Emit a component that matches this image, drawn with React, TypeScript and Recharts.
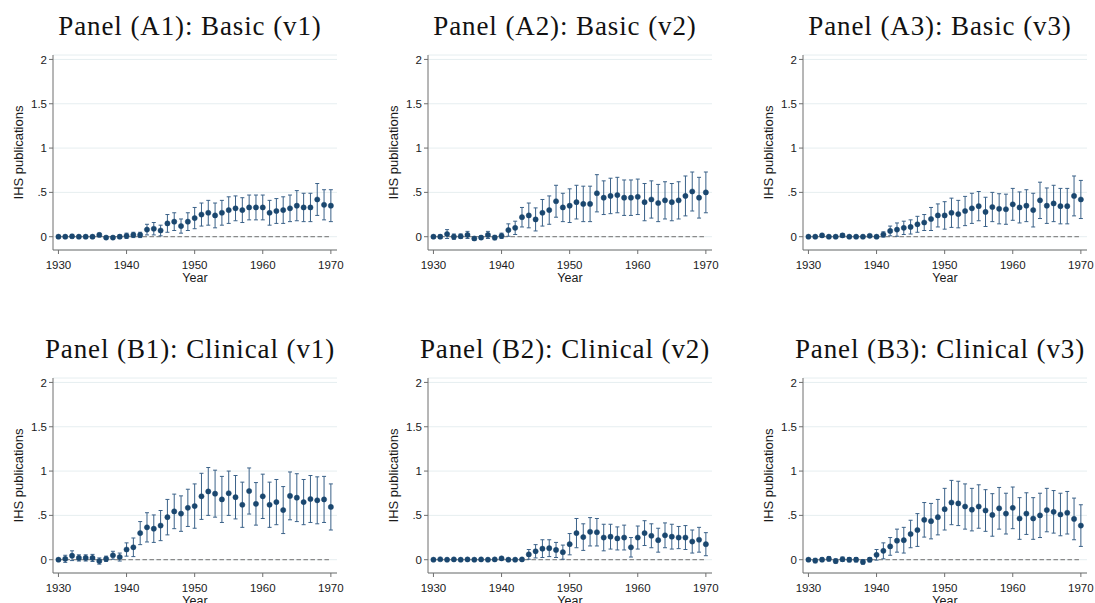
import React from 'react';
import { ComposedChart, Line, ErrorBar, XAxis, YAxis, CartesianGrid, ReferenceLine } from 'recharts';

const years = [
  1930, 1931, 1932, 1933, 1934, 1935, 1936, 1937, 1938, 1939,
  1940, 1941, 1942, 1943, 1944, 1945, 1946, 1947, 1948, 1949,
  1950, 1951, 1952, 1953, 1954, 1955, 1956, 1957, 1958, 1959,
  1960, 1961, 1962, 1963, 1964, 1965, 1966, 1967, 1968, 1969,
  1970,
];

const basicV1 = [
  0, 0, 0.005, 0, 0, 0, 0.02, -0.01, -0.01, 0,
  0.01, 0.02, 0.02, 0.08, 0.09, 0.07, 0.15, 0.17, 0.12, 0.17,
  0.21, 0.25, 0.27, 0.24, 0.27, 0.30, 0.32, 0.30, 0.33, 0.33,
  0.33, 0.27, 0.29, 0.30, 0.32, 0.35, 0.33, 0.33, 0.42, 0.36,
  0.35,
];
const basicV1Err = [
  0.015, 0.015, 0.02, 0.015, 0.015, 0.015, 0.02, 0.015, 0.015, 0.02,
  0.03, 0.03, 0.03, 0.06, 0.07, 0.06, 0.10, 0.10, 0.08, 0.10,
  0.12, 0.13, 0.14, 0.14, 0.14, 0.15, 0.14, 0.14, 0.14, 0.14,
  0.14, 0.14, 0.14, 0.15, 0.15, 0.17, 0.16, 0.16, 0.18, 0.17,
  0.18,
];

const basicV2 = [
  0, 0, 0.03, 0, 0.005, 0.02, -0.02, -0.01, 0.02, -0.01,
  0.01, 0.075, 0.10, 0.22, 0.24, 0.195, 0.27, 0.30, 0.40, 0.33,
  0.35, 0.39, 0.37, 0.37, 0.49, 0.44, 0.46, 0.47, 0.44, 0.44,
  0.45, 0.39, 0.42, 0.38, 0.41, 0.39, 0.41, 0.46, 0.51, 0.44,
  0.50,
];
const basicV2Err = [
  0.015, 0.02, 0.05, 0.03, 0.025, 0.04, 0.02, 0.02, 0.04, 0.025,
  0.03, 0.07, 0.075, 0.11, 0.14, 0.13, 0.15, 0.16, 0.18, 0.16,
  0.19, 0.19, 0.20, 0.20, 0.21, 0.19, 0.20, 0.20, 0.20, 0.20,
  0.20, 0.21, 0.21, 0.21, 0.21, 0.21, 0.21, 0.225, 0.22, 0.23,
  0.23,
];

const basicV3 = [
  0, 0, 0.015, 0, 0, 0.015, 0, 0, 0, 0.01,
  0, 0.025, 0.065, 0.08, 0.10, 0.11, 0.14, 0.16, 0.20, 0.24,
  0.24, 0.27, 0.255, 0.29, 0.32, 0.345, 0.28, 0.335, 0.315, 0.31,
  0.365, 0.33, 0.35, 0.30, 0.41, 0.35, 0.375, 0.345, 0.345, 0.46,
  0.42,
];
const basicV3Err = [
  0.01, 0.01, 0.015, 0.01, 0.01, 0.02, 0.01, 0.01, 0.01, 0.015,
  0.01, 0.03, 0.055, 0.075, 0.075, 0.08, 0.09, 0.09, 0.13, 0.13,
  0.155, 0.165, 0.155, 0.165, 0.17, 0.165, 0.165, 0.165, 0.17, 0.17,
  0.18, 0.175, 0.18, 0.19, 0.205, 0.20, 0.205, 0.20, 0.20, 0.225,
  0.215,
];

const clinicalV1 = [
  0, 0.01, 0.045, 0.02, 0.02, 0.02, -0.015, 0.01, 0.05, 0.03,
  0.115, 0.14, 0.30, 0.365, 0.35, 0.385, 0.48, 0.545, 0.52, 0.585,
  0.605, 0.715, 0.77, 0.745, 0.68, 0.75, 0.705, 0.62, 0.775, 0.63,
  0.715, 0.62, 0.65, 0.56, 0.72, 0.70, 0.65, 0.685, 0.67, 0.68,
  0.595,
];
const clinicalV1Err = [
  0.01, 0.04, 0.055, 0.035, 0.035, 0.04, 0.035, 0.03, 0.045, 0.045,
  0.075, 0.105, 0.13, 0.165, 0.155, 0.17, 0.20, 0.195, 0.20, 0.21,
  0.25, 0.26, 0.27, 0.265, 0.26, 0.25, 0.245, 0.255, 0.26, 0.24,
  0.25, 0.255, 0.255, 0.265, 0.27, 0.27, 0.255, 0.265, 0.265, 0.26,
  0.26,
];

const clinicalV2 = [
  0, 0.005, 0, 0.003, 0, 0.003, 0, 0.003, 0, 0.003,
  0.015, 0, 0, 0.003, 0.06, 0.095, 0.125, 0.13, 0.11, 0.085,
  0.175, 0.30, 0.255, 0.315, 0.31, 0.25, 0.26, 0.24, 0.25, 0.14,
  0.25, 0.30, 0.27, 0.22, 0.275, 0.26, 0.25, 0.25, 0.205, 0.225,
  0.175,
];
const clinicalV2Err = [
  0.008, 0.008, 0.008, 0.008, 0.008, 0.008, 0.008, 0.008, 0.008, 0.008,
  0.01, 0.008, 0.008, 0.01, 0.055, 0.075, 0.10, 0.095, 0.085, 0.08,
  0.12, 0.165, 0.15, 0.16, 0.155, 0.15, 0.14, 0.13, 0.14, 0.11,
  0.13, 0.14, 0.135, 0.135, 0.14, 0.14, 0.125, 0.135, 0.13, 0.14,
  0.13,
];

const clinicalV3 = [
  0, -0.01, 0, 0.01, -0.015, 0.005, 0, 0, -0.025, 0,
  0.055, 0.10, 0.15, 0.215, 0.22, 0.29, 0.335, 0.45, 0.435, 0.48,
  0.57, 0.645, 0.635, 0.60, 0.565, 0.60, 0.555, 0.505, 0.58, 0.52,
  0.585, 0.465, 0.52, 0.465, 0.50, 0.56, 0.54, 0.51, 0.53, 0.46,
  0.385,
];
const clinicalV3Err = [
  0.01, 0.025, 0.02, 0.025, 0.025, 0.025, 0.025, 0.025, 0.025, 0.025,
  0.06, 0.09, 0.10, 0.13, 0.145, 0.155, 0.185, 0.195, 0.20, 0.20,
  0.235, 0.25, 0.25, 0.255, 0.24, 0.245, 0.235, 0.24, 0.235, 0.23,
  0.235, 0.235, 0.235, 0.235, 0.25, 0.245, 0.24, 0.24, 0.24, 0.235,
  0.235,
];

const panelTitles = [
  'Panel (A1): Basic (v1)',
  'Panel (A2): Basic (v2)',
  'Panel (A3): Basic (v3)',
  'Panel (B1): Clinical (v1)',
  'Panel (B2): Clinical (v2)',
  'Panel (B3): Clinical (v3)',
];
const panelValues = [basicV1, basicV2, basicV3, clinicalV1, clinicalV2, clinicalV3];
const panelErrors = [basicV1Err, basicV2Err, basicV3Err, clinicalV1Err, clinicalV2Err, clinicalV3Err];

const yTicks = [0, 0.5, 1, 1.5, 2];
const yTickLabels = ['0', '.5', '1', '1.5', '2'];
const xTicks = [1930, 1940, 1950, 1960, 1970];
const yAxisTitle = 'IHS publications';
const xAxisTitle = 'Year';

const DOT = '#1a476f';
const BAR = '#3b6289';
const AXIS = '#6f6f6f';
const SANS = '"Liberation Sans", Arial, sans-serif';

function Panel({ index }: { index: number }) {
  const col = index % 3;
  const row = Math.floor(index / 3);
  const data = years.map((y, i) => ({ year: y, v: panelValues[index][i], e: panelErrors[index][i] }));
  return (
    <div style={{ position: 'absolute', left: col * 375, top: row * 323, width: 375, height: 300 }}>
      <div
        style={{
          position: 'absolute',
          left: -10,
          width: 400,
          top: 11,
          textAlign: 'center',
          fontFamily: '"Liberation Serif", "Times New Roman", serif',
          fontSize: 27,
          lineHeight: '30px',
          letterSpacing: 0.9,
          color: '#111',
          whiteSpace: 'nowrap',
        }}
      >
        {panelTitles[index]}
      </div>
      <ComposedChart width={375} height={300} data={data} margin={{ top: 55, right: 38, left: 5, bottom: 16 }}>
        <CartesianGrid horizontal vertical={false} stroke="#e6eef0" />
        <XAxis
          dataKey="year"
          type="number"
          domain={[1929.2, 1970.9]}
          ticks={xTicks}
          allowDataOverflow
          height={34}
          tickSize={4}
          tickMargin={7}
          stroke={AXIS}
          tick={{ fill: '#1a1a1a', fontSize: 11.5, fontFamily: SANS }}
          label={{ value: xAxisTitle, position: 'insideBottom', offset: 2, fill: '#1a1a1a', fontSize: 12.5, fontFamily: SANS }}
        />
        <YAxis
          type="number"
          domain={[-0.15, 2.05]}
          ticks={yTicks}
          allowDataOverflow
          width={48}
          tickSize={4}
          tickMargin={2}
          stroke={AXIS}
          tickFormatter={(v: number) => yTickLabels[yTicks.indexOf(v)] ?? String(v)}
          tick={{ fill: '#1a1a1a', fontSize: 11.5, fontFamily: SANS }}
          label={{
            value: yAxisTitle,
            angle: -90,
            position: 'insideLeft',
            offset: 13,
            fill: '#1a1a1a',
            fontSize: 13,
            fontFamily: SANS,
            style: { textAnchor: 'middle' },
          }}
        />
        <ReferenceLine
          segment={[{ x: 1930, y: 0 }, { x: 1970, y: 0 }]}
          stroke="#8a8a8a"
          strokeWidth={1.2}
          strokeDasharray="4.5 2.5"
          ifOverflow="visible"
        />
        <Line
          dataKey="v"
          stroke="none"
          isAnimationActive={false}
          dot={{ r: 2.6, fill: DOT, stroke: DOT, strokeWidth: 0.5 }}
          activeDot={false}
        >
          <ErrorBar dataKey="e" width={2} stroke={BAR} strokeWidth={1} direction="y" />
        </Line>
      </ComposedChart>
    </div>
  );
}

export default function App() {
  return (
    <div style={{ position: 'fixed', left: 0, top: 0, width: 1095, height: 603, background: '#fff', overflow: 'hidden' }}>
      {panelTitles.map((_, i) => (
        <Panel key={i} index={i} />
      ))}
    </div>
  );
}
